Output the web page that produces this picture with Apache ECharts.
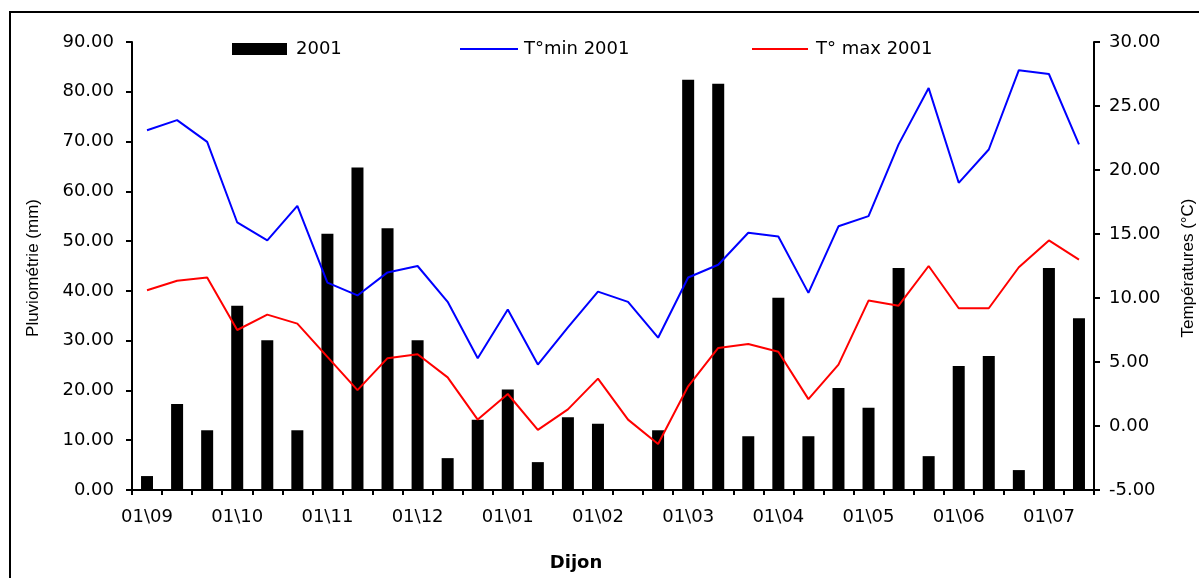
<!DOCTYPE html>
<html>
<head>
<meta charset="utf-8">
<script src="https://cdn.jsdelivr.net/npm/echarts@6/dist/echarts.min.js"></script>
<style>
html,body{margin:0;padding:0;background:#fff;}
#chart{width:1199px;height:578px;}
</style>
</head>
<body>
<div id="chart"></div>
<script>
const categories = [
  "01\\09","11\\09","21\\09","01\\10","11\\10","21\\10","01\\11","11\\11","21\\11",
  "01\\12","11\\12","21\\12","01\\01","11\\01","21\\01","01\\02","11\\02","21\\02",
  "01\\03","11\\03","21\\03","01\\04","11\\04","21\\04","01\\05","11\\05","21\\05",
  "01\\06","11\\06","21\\06","01\\07","11\\07"
];
const rain2001 = [
  2.8, 17.3, 12.0, 37.0, 30.1, 12.0, 51.5, 64.8, 52.6,
  30.1, 6.4, 14.1, 20.2, 5.6, 14.6, 13.3, 0, 12.0,
  82.4, 81.6, 10.8, 38.6, 10.8, 20.5, 16.5, 44.6, 6.8,
  24.9, 26.9, 4.0, 44.6, 34.5
];
const tmin2001 = [
  23.1, 23.9, 22.2, 15.9, 14.5, 17.2, 11.2, 10.2, 12.0,
  12.5, 9.7, 5.3, 9.1, 4.8, 7.7, 10.5, 9.7, 6.9,
  11.6, 12.6, 15.1, 14.8, 10.4, 15.6, 16.4, 22.0, 26.4,
  19.0, 21.6, 27.8, 27.5, 22.0
];
const tmax2001 = [
  10.6, 11.35, 11.6, 7.5, 8.7, 8.0, 5.4, 2.8, 5.3,
  5.6, 3.8, 0.5, 2.5, -0.3, 1.3, 3.7, 0.5, -1.4,
  3.1, 6.1, 6.4, 5.8, 2.1, 4.8, 9.8, 9.4, 12.5,
  9.2, 9.2, 12.4, 14.5, 13.0
];
const leftTicks = {min: 0, max: 90, interval: 10};
const rightTicks = {min: -5, max: 30, interval: 5};
const names = {bar: "2001", tmin: "T°min 2001", tmax: "T° max 2001"};

const FONT = "DejaVu Sans";
const chart = echarts.init(document.getElementById('chart'));
const axisLineStyle = {show: true, lineStyle: {color: '#000', width: 2}};
const fmt = v => v.toFixed(2);
const legendText = pad => ({fontFamily: FONT, fontSize: 18, color: '#000', padding: [0, 0, 0, pad]});

chart.setOption({
  animation: false,
  backgroundColor: '#fff',
  textStyle: {fontFamily: FONT, color: '#000'},
  grid: {left: 132, right: 105, top: 42, bottom: 88, containLabel: false},
  legend: [
    {data: [names.bar], left: 232, top: 40, padding: 0, itemWidth: 55, itemHeight: 12, itemGap: 0,
     icon: 'rect', textStyle: legendText(4)},
    {data: [names.tmin], left: 460, top: 40, padding: 0, itemWidth: 58, itemHeight: 2, itemGap: 0,
     icon: 'rect', textStyle: legendText(1)},
    {data: [names.tmax], left: 752, top: 40, padding: 0, itemWidth: 56, itemHeight: 2, itemGap: 0,
     icon: 'rect', textStyle: legendText(3)}
  ],
  xAxis: {
    type: 'category',
    data: categories,
    boundaryGap: true,
    axisLine: axisLineStyle,
    axisTick: {show: true, interval: 0, length: 5, lineStyle: {color: '#000', width: 2}},
    axisLabel: {interval: 2, margin: 18, fontFamily: FONT, fontSize: 18, color: '#000'},
    splitLine: {show: false}
  },
  yAxis: [
    {type: 'value', position: 'left', min: leftTicks.min, max: leftTicks.max, interval: leftTicks.interval,
     axisLine: axisLineStyle,
     axisTick: {show: true, length: 6, lineStyle: {color: '#000', width: 2}},
     axisLabel: {formatter: fmt, margin: 18, fontFamily: FONT, fontSize: 18, color: '#000'},
     splitLine: {show: false}},
    {type: 'value', position: 'right', min: rightTicks.min, max: rightTicks.max, interval: rightTicks.interval,
     axisLine: axisLineStyle,
     axisTick: {show: true, length: 6, lineStyle: {color: '#000', width: 2}},
     axisLabel: {formatter: fmt, margin: 15, fontFamily: FONT, fontSize: 18, color: '#000'},
     splitLine: {show: false}}
  ],
  series: [
    {name: names.bar, type: 'bar', yAxisIndex: 0, data: rain2001, barWidth: 12,
     itemStyle: {color: '#000'}},
    {name: names.tmin, type: 'line', yAxisIndex: 1, data: tmin2001, symbol: 'none',
     lineStyle: {color: '#0000ff', width: 2}, itemStyle: {color: '#0000ff'}},
    {name: names.tmax, type: 'line', yAxisIndex: 1, data: tmax2001, symbol: 'none',
     lineStyle: {color: '#ff0000', width: 2}, itemStyle: {color: '#ff0000'}}
  ],
  graphic: [
    {type: 'rect', shape: {x: 10, y: 12, width: 1220, height: 620}, z: 100,
     style: {fill: null, stroke: '#000', lineWidth: 2}},
    {type: 'text', x: 33, y: 268, rotation: Math.PI / 2, z: 100,
     style: {text: 'Pluviométrie (mm)', font: '17px "Liberation Sans"', fill: '#000',
             textAlign: 'center', textVerticalAlign: 'middle'}},
    {type: 'text', x: 1188, y: 268, rotation: Math.PI / 2, z: 100,
     style: {text: 'Températures (°C)', font: '17px "Liberation Sans"', fill: '#000',
             textAlign: 'center', textVerticalAlign: 'middle'}},
    {type: 'text', x: 576, y: 563, z: 100,
     style: {text: 'Dijon', font: 'bold 18px "DejaVu Sans"', fill: '#000',
             textAlign: 'center', textVerticalAlign: 'middle'}}
  ]
});
</script>
</body>
</html>
